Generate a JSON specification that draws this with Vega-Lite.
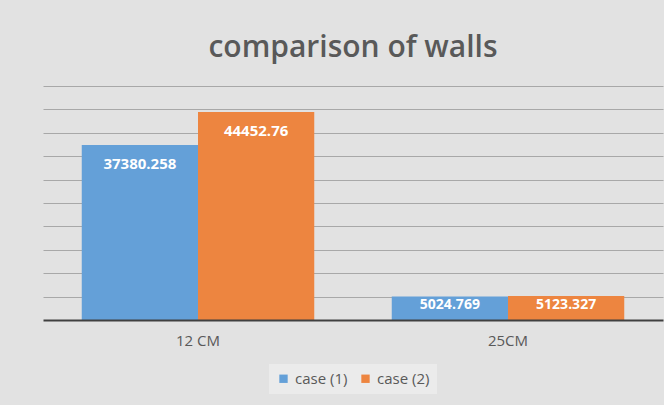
{
  "$schema": "https://vega.github.io/schema/vega-lite/v6.json",
  "width": 620,
  "height": 234,
  "autosize": {"type": "none"},
  "padding": {"left": 43, "top": 86, "right": 1, "bottom": 85},
  "background": "#e2e2e2",
  "title": {
    "text": "comparison of walls",
    "anchor": "middle",
    "baseline": "alphabetic",
    "offset": -1,
    "fontSize": 30,
    "font": "Open Sans",
    "fontWeight": 600,
    "color": "#595959"
  },
  "data": {
    "values": [
      {"wall": "12 CM", "case": "case (1)", "value": 37380.258},
      {"wall": "12 CM", "case": "case (2)", "value": 44452.76},
      {"wall": "25CM", "case": "case (1)", "value": 5024.769},
      {"wall": "25CM", "case": "case (2)", "value": 5123.327}
    ]
  },
  "config": {
    "view": {"stroke": null},
    "font": "Open Sans"
  },
  "encoding": {
    "x": {
      "field": "wall",
      "type": "nominal",
      "scale": {"paddingInner": 0.25, "paddingOuter": 0.125},
      "axis": {
        "title": null,
        "labelAngle": 0,
        "ticks": false,
        "labelPadding": 13,
        "labelFontSize": 15,
        "labelColor": "#595959",
        "domainColor": "#404040",
        "domainWidth": 2,
        "zindex": 1
      }
    },
    "xOffset": {"field": "case", "type": "nominal", "scale": {"paddingInner": 0}},
    "y": {
      "field": "value",
      "type": "quantitative",
      "scale": {"domain": [0, 50000]},
      "axis": {
        "title": null,
        "labels": false,
        "ticks": false,
        "domain": false,
        "values": [5000, 10000, 15000, 20000, 25000, 30000, 35000, 40000, 45000, 50000],
        "gridColor": "#a8a8a8",
        "gridWidth": 1
      }
    }
  },
  "layer": [
    {
      "mark": {"type": "bar"},
      "encoding": {
        "color": {
          "field": "case",
          "type": "nominal",
          "scale": {"range": ["#64a0d8", "#ed8540"]},
          "legend": {
            "title": null,
            "orient": "none",
            "legendX": 226,
            "legendY": 278,
            "direction": "horizontal",
            "symbolType": "square",
            "symbolSize": 70,
            "labelFontSize": 15,
            "labelColor": "#595959",
            "fillColor": "#ebebeb",
            "padding": 7,
            "columnPadding": 10
          }
        }
      }
    },
    {
      "transform": [{"filter": "datum.value > 10000"}],
      "mark": {"type": "text", "baseline": "middle", "dy": 19, "fontSize": 15, "fontWeight": "bold", "color": "white"},
      "encoding": {"text": {"field": "value", "type": "quantitative", "format": ".10~f"}}
    },
    {
      "transform": [{"filter": "datum.value <= 10000"}],
      "mark": {"type": "text", "baseline": "middle", "dy": 9, "fontSize": 14, "fontWeight": "bold", "color": "white"},
      "encoding": {"text": {"field": "value", "type": "quantitative", "format": ".10~f"}}
    }
  ]
}
